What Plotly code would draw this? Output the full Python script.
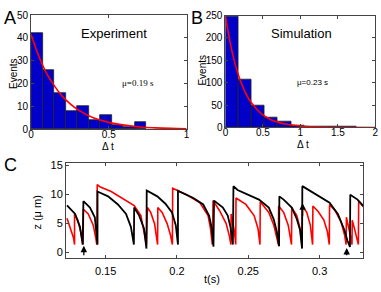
import plotly.graph_objects as go

# ---------------- Panel A (Experiment) ----------------
a_bin_centers = [0.037, 0.111, 0.185, 0.259, 0.333, 0.407, 0.481, 0.555, 0.629, 0.703]
a_counts = [42, 26, 16, 8, 10, 4, 6, 2, 1, 3]
a_bin_width = 0.074
a_fit_t = [0, 0.05, 0.1, 0.15, 0.2, 0.25, 0.3, 0.4, 0.5, 0.6, 0.7, 0.8, 0.9, 1.0]
a_fit_n = [41.5, 32, 24.5, 19, 14.5, 11.2, 8.6, 5.0, 3.0, 1.8, 1.0, 0.6, 0.35, 0.2]

# ---------------- Panel B (Simulation) ----------------
b_bin_centers = [0.0875, 0.2625, 0.4375, 0.6125, 0.7875, 0.9625, 1.1375, 1.3125, 1.4875, 1.6625]
b_counts = [247, 106, 49, 23, 14, 5, 2, 3, 1, 1]
b_bin_width = 0.175
b_fit_t = [0, 0.1, 0.2, 0.3, 0.4, 0.5, 0.6, 0.7, 0.8, 1.0, 1.2, 1.5, 2.0]
b_fit_n = [248, 161, 104, 67, 44, 28, 18, 12, 7.6, 3.2, 1.3, 0.35, 0.04]

# ---------------- Panel C (z traces) ----------------
black_t = [0.1229, 0.1286, 0.1320, 0.1339, 0.1344, 0.1390, 0.1424, 0.1438, 0.1443, 0.1443,
           0.1517, 0.1586, 0.1643, 0.1677, 0.1698, 0.1700,
           0.1735, 0.1769, 0.1786, 0.1788,
           0.1862, 0.1919, 0.1965, 0.1992, 0.2007, 0.2007,
           0.2115, 0.2184, 0.2225, 0.2242, 0.2256, 0.2260,
           0.2322, 0.2356, 0.2375, 0.2392, 0.2396,
           0.2425, 0.2575, 0.2644, 0.2679, 0.2700, 0.2716, 0.2718,
           0.2748, 0.2805, 0.2840, 0.2863, 0.2877, 0.2879,
           0.2943, 0.3070, 0.3128, 0.3174, 0.3195, 0.3213, 0.3215,
           0.3266, 0.3312]
black_z = [8.05, 6.56, 4.35, 1.3, 8.77, 7.67, 6.0, 3.25, 1.3, 10.43,
           9.6, 8.2, 6.56, 4.35, 1.3, 7.67,
           6.29, 4.07, 0.6, 10.6,
           9.6, 8.33, 6.84, 4.6, 1.3, 10.53,
           9.32, 8.2, 6.29, 4.35, 0.93, 8.87,
           7.67, 6.29, 4.35, 1.3, 11.36,
           10.7, 9.04, 7.67, 5.6, 3.5, 1.0, 9.6,
           9.04, 7.67, 5.7, 3.8, 0.6, 11.36,
           10.43, 8.49, 6.56, 3.81, 2.0, 0.9, 9.87,
           9.04, 7.8]

red_t = [0.1229, 0.1251, 0.1275, 0.1282, 0.1282,
         0.1305, 0.1325, 0.1342, 0.1344,
         0.1378, 0.1413, 0.1431, 0.1438, 0.1441,
         0.1459, 0.1539, 0.1631, 0.1700, 0.1747, 0.1774, 0.1786, 0.1793,
         0.1816, 0.1843, 0.1857, 0.1864, 0.1866,
         0.1896, 0.1931, 0.1954, 0.1968, 0.1970,
         0.2069, 0.2161, 0.2218, 0.2235, 0.2248, 0.2253,
         0.2299, 0.2345, 0.2368, 0.2378, 0.2380,
         0.2403, 0.2412, 0.2414,
         0.2483, 0.2541, 0.2568, 0.2582, 0.2584,
         0.2644, 0.2679, 0.2700, 0.2711, 0.2713,
         0.2748, 0.2780, 0.2798, 0.2803, 0.2805,
         0.2840, 0.2863, 0.2877, 0.2879,
         0.2910, 0.2935, 0.2948, 0.2951, 0.2953,
         0.2990, 0.3030, 0.3055, 0.3068, 0.3070,
         0.3110, 0.3150, 0.3175, 0.3186, 0.3188,
         0.3205, 0.3220, 0.3227, 0.3229,
         0.3245, 0.3262, 0.3272, 0.3274,
         0.3312]
red_z = [5.84, 4.35, 2.42, 1.3, 6.56,
         5.46, 3.53, 1.3, 7.38,
         6.56, 4.64, 2.42, 1.3, 11.64,
         11.26, 10.43, 9.04, 8.0, 6.29, 3.25, 1.3, 7.67,
         6.84, 4.9, 2.7, 1.3, 7.67,
         6.84, 4.9, 2.98, 1.3, 10.98,
         9.87, 8.49, 6.29, 4.07, 1.3, 8.87,
         7.12, 4.9, 2.7, 1.3, 6.56,
         3.53, 1.3, 9.32,
         8.21, 6.29, 4.07, 1.3, 8.66,
         6.84, 4.64, 2.7, 1.3, 7.95,
         6.84, 4.64, 2.42, 1.3, 7.67,
         6.29, 4.07, 1.3, 7.95,
         6.84, 4.64, 2.42, 1.3, 7.95,
         7.0, 5.5, 3.5, 1.3, 8.21,
         7.1, 5.2, 3.0, 1.3, 6.0,
         4.35, 2.42, 1.3, 5.5,
         4.0, 2.4, 1.3, 8.77,
         7.67]

# arrows: (t, tail z, head z)
arrow_t = [0.1347, 0.2881, 0.3190]
arrow_tail = [-0.8, 6.0, -0.8]
arrow_head = [1.1, 8.4, 0.7]

W, H = 381, 292
def px(x):
    return x / W
def py(y):
    return 1 - y / H

fig = go.Figure()

BLUE = "#0000c8"
fig.add_trace(go.Bar(x=a_bin_centers, y=a_counts, width=a_bin_width,
                     marker=dict(color=BLUE, line=dict(color="#222", width=0.8)),
                     xaxis="x", yaxis="y", showlegend=False))
fig.add_trace(go.Scatter(x=a_fit_t, y=a_fit_n, mode="lines", line=dict(color="#ff0000", width=1.6, shape="spline"),
                         xaxis="x", yaxis="y", showlegend=False))
fig.add_trace(go.Bar(x=b_bin_centers, y=b_counts, width=b_bin_width,
                     marker=dict(color=BLUE, line=dict(color="#222", width=0.8)),
                     xaxis="x2", yaxis="y2", showlegend=False))
fig.add_trace(go.Scatter(x=b_fit_t, y=b_fit_n, mode="lines", line=dict(color="#ff0000", width=1.6, shape="spline"),
                         xaxis="x2", yaxis="y2", showlegend=False))
fig.add_trace(go.Scatter(x=red_t, y=red_z, mode="lines", line=dict(color="#ff0000", width=1.6),
                         xaxis="x3", yaxis="y3", showlegend=False))
fig.add_trace(go.Scatter(x=black_t, y=black_z, mode="lines", line=dict(color="#000000", width=1.8),
                         xaxis="x3", yaxis="y3", showlegend=False))

axis_common = dict(showline=True, linecolor="#444", linewidth=1, mirror="ticks", ticks="inside",
                   ticklen=3, tickcolor="#444", showgrid=False, zeroline=False,
                   tickfont=dict(family="Liberation Sans, Arial", size=10, color="#000"))
font_c = dict(family="Liberation Sans, Arial", size=11, color="#000")

layout = dict(
    width=W, height=H, margin=dict(l=0, r=0, t=0, b=0),
    paper_bgcolor="white", plot_bgcolor="white", bargap=0,
    xaxis=dict(domain=[px(28.5), px(186.5)], range=[0, 1], tickvals=[0, 0.5, 1], anchor="y",
               ticklabelstandoff=-4, **axis_common),
    yaxis=dict(domain=[py(128.5), py(9.5)], range=[0, 50], dtick=10, anchor="x", **axis_common),
    xaxis2=dict(domain=[px(226), px(378.3)], range=[0, 2], dtick=0.5, anchor="y2",
                ticklabelstandoff=-4, **axis_common),
    yaxis2=dict(domain=[py(126.7), py(10)], range=[0, 250], dtick=50, anchor="x2", **axis_common),
    xaxis3=dict(domain=[px(64), px(366)], range=[0.1222, 0.3306], tickvals=[0.15, 0.2, 0.25, 0.3],
                anchor="y3", ticklabelstandoff=2, **{**axis_common, "tickfont": font_c}),
    yaxis3=dict(domain=[py(263.3), py(164)], range=[-1.1, 15.3], tickvals=[0, 5, 10, 15],
                anchor="x3", **{**axis_common, "tickfont": font_c}),
)
fig.update_layout(**layout)

SANS = "Liberation Sans, Arial"
def note(x, y, text, size, family=SANS, angle=0):
    fig.add_annotation(x=px(x), y=py(y), xref="paper", yref="paper", text=text, showarrow=False,
                       font=dict(family=family, size=size, color="#000"), textangle=angle,
                       xanchor="center", yanchor="middle")

note(7, 12, "A", 18)
note(197, 12, "B", 18)
note(8, 166, "C", 18)
note(113, 29, "Experiment", 13)
note(303, 28.5, "Simulation", 13)
note(136.7, 80, "μ=0.19 s", 9, family="Liberation Serif, Times New Roman")
note(314, 80, "μ=0.23 s", 8)
note(10, 70, "Events", 10, angle=-90)
note(202.5, 67, "Events", 10, angle=-90)
note(106.7, 146, "Δ t", 10)
note(305, 144, "Δ t", 10)
note(35, 215, "z (μ m)", 11, angle=-90)
note(212, 285, "t(s)", 11)

for t, tail, head in zip(arrow_t, arrow_tail, arrow_head):
    fig.add_annotation(x=t, y=head, ax=t, ay=tail, xref="x3", yref="y3", axref="x3", ayref="y3",
                       showarrow=True, arrowhead=2, arrowsize=1, arrowwidth=1.3, arrowcolor="#000", text="")

fig.write_html("out.html", config={"displayModeBar": False},
               post_script="document.body.style.margin='0';document.body.style.padding='0';")
